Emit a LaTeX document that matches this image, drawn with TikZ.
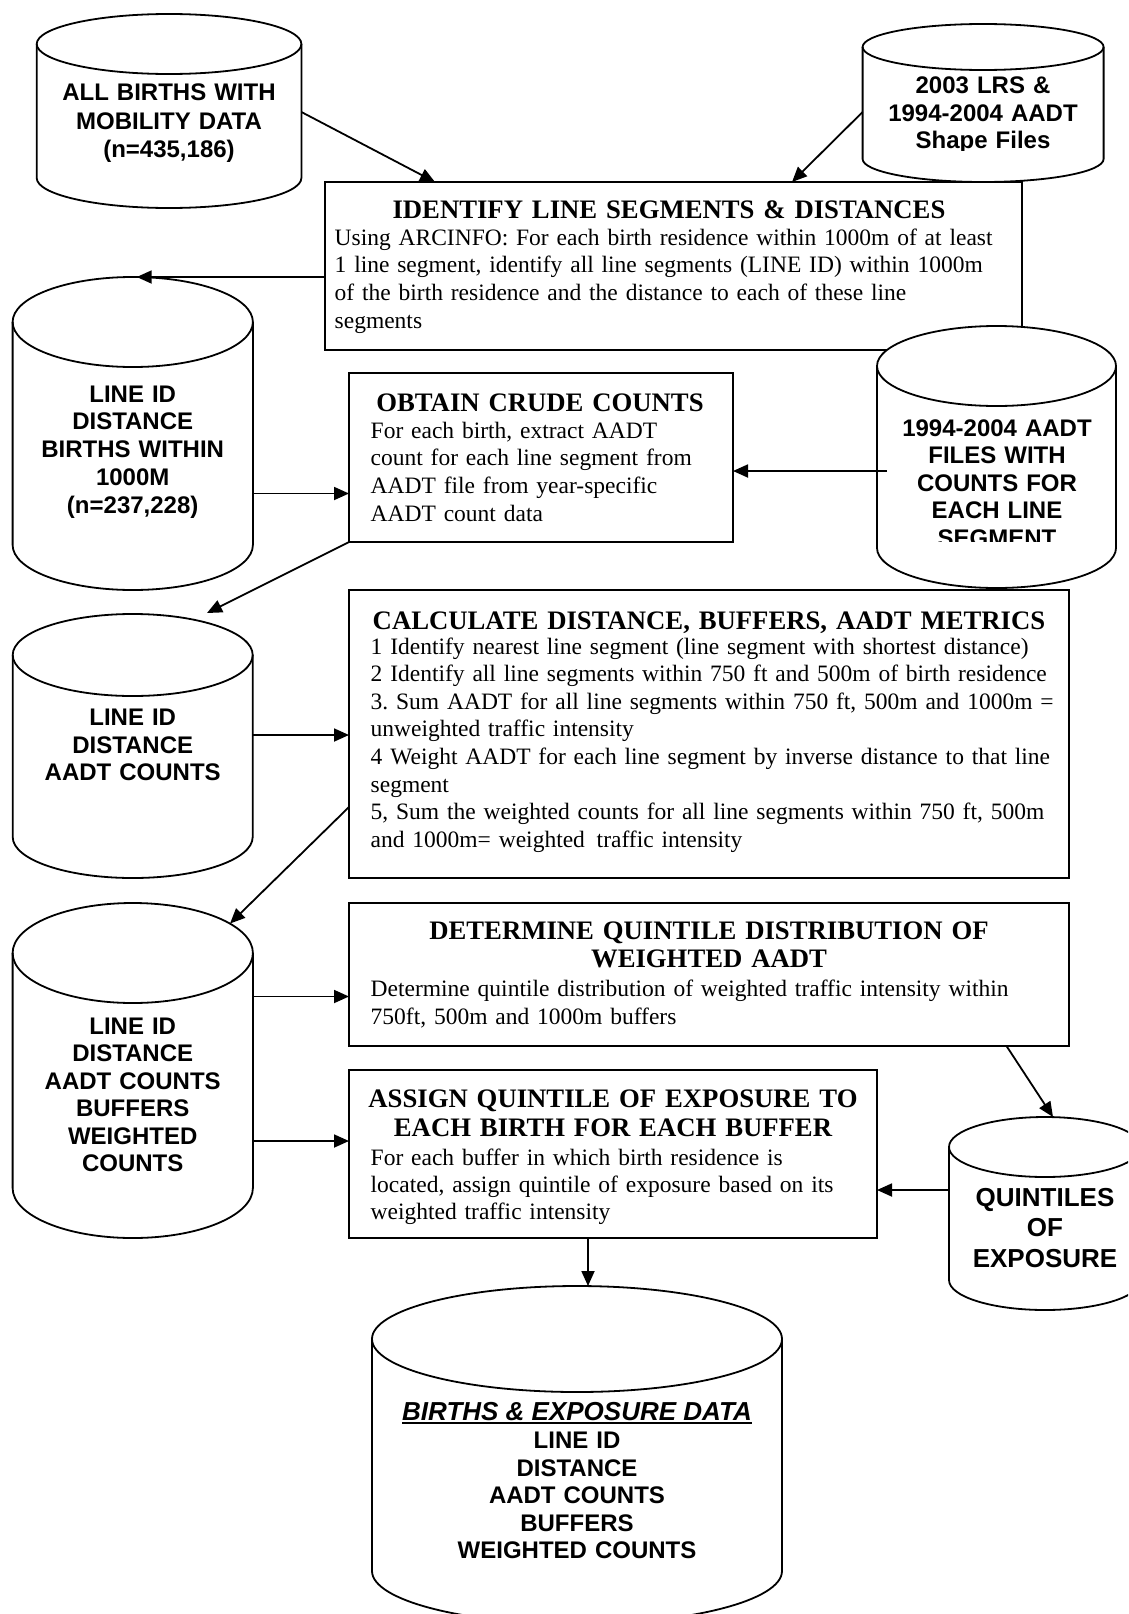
\documentclass[tikz,border=0pt]{standalone}
\usepackage{fontspec}
\setmainfont{Liberation Serif}
\newfontfamily\sansf{Liberation Sans}
\usetikzlibrary{arrows.meta,calc}
\frenchspacing

\tikzset{
  boxstyle/.style={draw, line width=2pt, fill=white, inner sep=0pt, outer sep=0pt, anchor=north west},
  cylline/.style={line width=1.8pt, fill=white},
  ttl/.style={font=\bfseries\fontsize{26.7}{28.5}\selectfont, inner sep=0pt, anchor=base, align=center, text width=720pt},
  bdy/.style={font=\fontsize{23.5}{#1}\selectfont, inner sep=0pt, anchor=base west, align=left, text width=720pt},
  bdy/.default=27.7,
  cyltxt/.style={font=\sansf\bfseries\fontsize{24}{27.7}\selectfont, inner sep=0pt, anchor=base, align=center, text width=300pt},
  conn/.style={line width=1.8pt, -{Triangle[length=15pt,width=13pt]}},
}

% #1 name, #2 left x, #3 right x, #4 top y, #5 lowest y, #6 ellipse y radius (y measured downward)
\newcommand{\dbcyl}[6]{%
  \pgfmathsetmacro{\rxx}{(#3-#2)/2}%
  \filldraw[cylline] (#2,{-(#4)-(#6)}) -- (#2,{-(#5)+(#6)})
     arc[start angle=180,end angle=360,x radius=\rxx,y radius=#6]
     -- (#3,{-(#4)-(#6)})
     arc[start angle=0,end angle=180,x radius=\rxx,y radius=#6] -- cycle;
  \draw[cylline, fill=none] (#2,{-(#4)-(#6)}) arc[start angle=180,end angle=360,x radius=\rxx,y radius=#6];
  \node[inner sep=0pt, outer sep=0pt, minimum width={(#3-#2)*1pt}, minimum height={(#5-#4)*1pt}] (#1) at ({(#2+#3)/2},{-(#4+#5)/2}) {};
}

\begin{document}
\begin{tikzpicture}[x=1pt,y=1pt]
\useasboundingbox (0,0) rectangle (1128,-1614);
\fill[white] (0,0) rectangle (1128,-1614);
\clip (0,0) rectangle (1128,-1614);

% ---------- top row ----------
\dbcyl{c1}{36.7}{301.4}{14}{208}{30}
\node[cyltxt, font=\sansf\bfseries\fontsize{24}{28.5}\selectfont] (c1t) at (169,-100.5) {ALL BIRTHS WITH\\MOBILITY DATA\\(n=435,186)};

\node[boxstyle, minimum width=696.7pt, minimum height=168pt] (id1) at (324.8,-182) {};
\node[ttl] (id1t) at (669,-218) {IDENTIFY LINE SEGMENTS \& DISTANCES};
\node[bdy=27.8] (id1b) at (334.5,-245) {Using ARCINFO: For each birth residence within 1000m of at least\\1 line segment, identify all line segments (LINE ID) within 1000m\\of the birth residence and the distance to each of these line\\segments};

\dbcyl{c2}{862.6}{1103.6}{24}{182}{23}
\begin{scope}
  \clip (862.6,-24) rectangle (1103.6,-150);
  \node[cyltxt] (c2t) at (983,-93.5) {2003 LRS \&\\1994-2004 AADT\\Shape Files};
\end{scope}

% ---------- second row ----------
\dbcyl{c3}{12.6}{252.9}{277}{590}{45}
\node[cyltxt, font=\sansf\bfseries\fontsize{24}{27.9}\selectfont] (c3t) at (132.7,-402) {LINE ID\\DISTANCE\\BIRTHS WITHIN\\1000M\\(n=237,228)};

\dbcyl{c4}{877}{1116}{326}{588}{40}
\begin{scope}
  \clip (877,-326) rectangle (1116,-541);
  \node[cyltxt, font=\sansf\bfseries\fontsize{24}{27.5}\selectfont] (c4t) at (997,-436) {1994-2004 AADT\\FILES WITH\\COUNTS FOR\\EACH LINE\\SEGMENT};
\end{scope}

\node[boxstyle, minimum width=384pt, minimum height=169pt] (id2) at (349,-373) {};
\node[ttl] (id2t) at (540,-411) {OBTAIN CRUDE COUNTS};
\node[bdy] (id2b) at (370.5,-438) {For each birth, extract AADT\\count for each line segment from\\AADT file from year-specific\\AADT count data};

% ---------- third row ----------
\dbcyl{c5}{12.7}{252.7}{614}{878}{41}
\node[cyltxt, font=\sansf\bfseries\fontsize{24}{27.5}\selectfont] (c5t) at (132.7,-725.5) {LINE ID\\DISTANCE\\AADT COUNTS};

\node[boxstyle, minimum width=719.7pt, minimum height=288pt] (id3) at (349,-590) {};
\node[ttl] (id3t) at (709,-629) {CALCULATE DISTANCE, BUFFERS, AADT METRICS};
\node[bdy=27.6] (id3b) at (370.5,-654) {1 Identify nearest line segment (line segment with shortest distance)\\2 Identify all line segments within 750 ft and 500m of birth residence\\3. Sum AADT for all line segments within 750 ft, 500m and 1000m =\\unweighted traffic intensity\\4 Weight AADT for each line segment by inverse distance to that line\\segment\\5, Sum the weighted counts for all line segments within 750 ft, 500m\\and 1000m= weighted\enspace traffic intensity};

% ---------- fourth row ----------
\dbcyl{c6}{12.6}{252.9}{903}{1238}{50}
\node[cyltxt, font=\sansf\bfseries\fontsize{24}{27.5}\selectfont] (c6t) at (132.7,-1034) {LINE ID\\DISTANCE\\AADT COUNTS\\BUFFERS\\WEIGHTED\\COUNTS};

\node[boxstyle, minimum width=719.7pt, minimum height=143pt] (id4) at (349,-903) {};
\node[ttl, font=\bfseries\fontsize{26.7}{28}\selectfont] (id4t) at (709,-939) {DETERMINE QUINTILE DISTRIBUTION OF\\WEIGHTED AADT};
\node[bdy=28] (id4b) at (370.5,-996) {Determine quintile distribution of weighted traffic intensity within\\750ft, 500m and 1000m buffers};

\node[boxstyle, minimum width=528pt, minimum height=168pt] (id5) at (349,-1070) {};
\node[ttl, font=\bfseries\fontsize{26.7}{29}\selectfont] (id5t) at (613,-1107) {ASSIGN QUINTILE OF EXPOSURE TO\\EACH BIRTH FOR EACH BUFFER};
\node[bdy=27] (id5b) at (370.5,-1165) {For each buffer in which birth residence is\\located, assign quintile of exposure based on its\\weighted traffic intensity};

\dbcyl{c7}{949}{1141}{1117}{1310}{30}
\node[cyltxt, font=\sansf\bfseries\fontsize{26}{30.5}\selectfont] (c7t) at (1045,-1206) {QUINTILES\\OF\\EXPOSURE};

% ---------- bottom ----------
\dbcyl{c8}{372}{782}{1286}{1624}{53}
\node[font=\sansf\bfseries\itshape\fontsize{26}{28}\selectfont, inner sep=0pt, anchor=base] (c8h) at (577,-1420) {BIRTHS \& EXPOSURE DATA};
\draw[line width=2.2pt] ($(c8h.base west)+(0,-3.3)$) -- ($(c8h.base east)+(0,-3.3)$);
\node[cyltxt, font=\sansf\bfseries\fontsize{24}{27.5}\selectfont] (c8t) at (577,-1448.6) {LINE ID\\DISTANCE\\AADT COUNTS\\BUFFERS\\WEIGHTED COUNTS};

% ---------- connectors ----------
\draw[conn] (c1.east |- 0,-112) -- (id1.north -| 435,0);
\draw[conn] (c2.west |- 0,-112) -- (id1.north -| 792,0);
\draw[conn] (id1.west |- 0,-277) -- (c3.north -| 136.7,0);
\draw[conn] (c3.east |- 0,-493.5) -- (id2.west |- 0,-493.5);
\draw[conn] ($(c4.west |- 0,-471)+(10,0)$) -- (id2.east |- 0,-471);
\draw[conn] (id2.south west) -- ($(c5.north)+(74.3,1)$);
\draw[conn] (c5.east |- 0,-735) -- (id3.west |- 0,-735);
\draw[conn] (id3.west |- 0,-807) -- ($(c6.north)+(97.3,-20.5)$);
\draw[conn] (c6.east |- 0,-996.5) -- (id4.west |- 0,-996.5);
\draw[conn] (c6.east |- 0,-1141) -- (id5.west |- 0,-1141);
\draw[conn] (id4.south -| 1006.5,0) -- (c7.north -| 1053,0);
\draw[conn] (c7.west |- 0,-1190) -- (id5.east |- 0,-1190);
\draw[conn] (id5.south -| 588,0) -- (c8.north -| 588,0);
\end{tikzpicture}
\end{document}
